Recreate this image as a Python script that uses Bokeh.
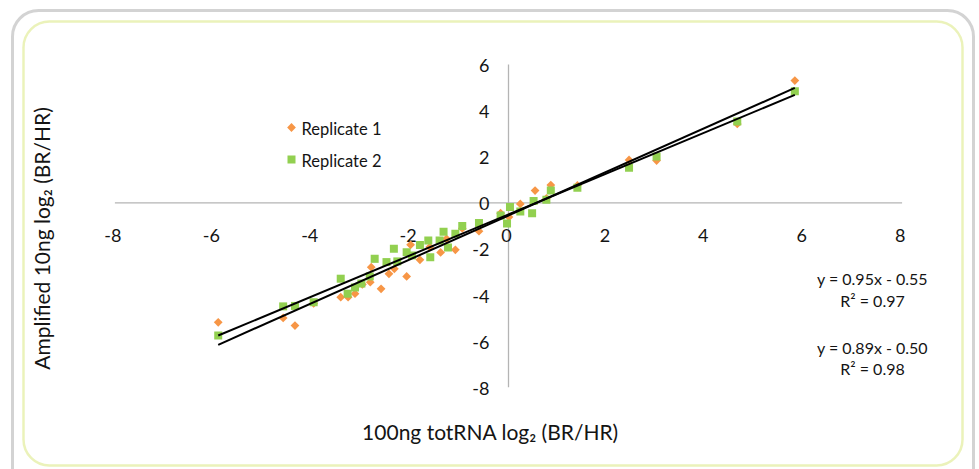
import numpy as np
from bokeh.plotting import figure
from bokeh.models import BoxAnnotation, Range1d
from bokeh.core.properties import value
from bokeh.embed import file_html
from bokeh.resources import INLINE

# ---------------- data ----------------
series_names = ["Replicate 1", "Replicate 2"]

rep1_x = [-5.90, -4.58, -4.34, -3.96, -3.41, -3.26, -3.12, -2.97, -2.81, -2.79,
          -2.59, -2.43, -2.32, -2.07, -1.99, -1.80, -1.60, -1.38, -1.26, -1.08,
          -0.94, -0.60, -0.16, 0.01, 0.24, 0.54, 0.77, 0.86, 1.40, 2.45,
          3.01, 4.65, 5.82]
rep1_y = [-5.18, -4.99, -5.32, -4.36, -4.09, -4.09, -3.94, -3.54, -3.44, -2.79,
          -3.73, -3.08, -2.86, -3.19, -1.82, -2.47, -1.92, -2.15, -1.56, -2.04,
          -1.11, -1.23, -0.45, -0.62, -0.05, 0.53, 0.19, 0.77, 0.75, 1.86,
          1.83, 3.42, 5.30]

rep2_x = [-5.90, -4.58, -4.34, -3.96, -3.41, -3.27, -3.12, -2.99, -2.82, -2.72,
          -2.48, -2.33, -2.26, -2.07, -1.96, -1.80, -1.63, -1.59, -1.40, -1.32,
          -1.23, -1.08, -0.94, -0.60, -0.16, -0.03, 0.03, 0.24, 0.48, 0.51,
          0.77, 0.86, 1.40, 2.45, 3.01, 4.65, 5.82]
rep2_y = [-5.75, -4.49, -4.47, -4.31, -3.29, -3.94, -3.67, -3.50, -3.19, -2.43,
          -2.57, -1.99, -2.54, -2.14, -2.28, -1.83, -1.63, -2.36, -1.63, -1.26,
          -1.94, -1.34, -1.01, -0.88, -0.55, -0.90, -0.18, -0.38, -0.45, 0.08,
          0.13, 0.53, 0.65, 1.52, 2.01, 3.52, 4.84]

fit_slopes = [0.95, 0.89]
fit_intercepts = [-0.55, -0.50]
fit_r2 = [0.97, 0.98]

x_ticks = [-8, -6, -4, -2, 0, 2, 4, 6, 8]
y_ticks = [-8, -6, -4, -2, 0, 2, 4, 6]

x_title = "100ng totRNA log\u2082 (BR/HR)"
y_title = "Amplified 10ng log\u2082 (BR/HR)"

# ---------------- layout ----------------
W, H = 979, 469
X0_PX, Y0_PX = 508.0, 202.3      # canvas position of the origin
PX_X, PX_Y = 49.2, 23.07         # pixels per data unit


def dx(px):
    return (px - X0_PX) / PX_X


def dy(py):
    return (Y0_PX - py) / PX_Y


FONT = value("Lato")
TXT = "#141414"
ORANGE = "#F79646"
GREEN = "#92D050"

p = figure(width=W, height=H, x_range=Range1d(dx(0), dx(W)), y_range=Range1d(dy(H), dy(0)),
           x_axis_type=None, y_axis_type=None, min_border=0,
           toolbar_location=None, output_backend="svg",
           outline_line_color=None, background_fill_color="white",
           border_fill_color="white")

# axes through origin
p.segment(x0=[min(x_ticks), 0], y0=[0, min(y_ticks)], x1=[max(x_ticks), 0], y1=[0, max(y_ticks)],
          line_color="#B4B4B4", line_width=1.3)

# tick labels
p.text(x=x_ticks, y=[0] * len(x_ticks), text=[str(t) for t in x_ticks],
       x_offset=-2, y_offset=33, text_align="center", text_baseline="middle",
       text_font=FONT, text_font_size="18px", text_color=TXT)
p.text(x=[0] * len(y_ticks), y=y_ticks, text=[str(t) for t in y_ticks],
       x_offset=-19, y_offset=1, text_align="right", text_baseline="middle",
       text_font=FONT, text_font_size="18px", text_color=TXT)

# series
p.scatter(rep1_x, rep1_y, marker="square", angle=np.pi / 4, size=6.2,
          fill_color=ORANGE, line_color=None)
p.scatter(rep2_x, rep2_y, marker="square", size=8,
          fill_color=GREEN, line_color=None)

# trend lines
all_x = rep1_x + rep2_x
xl = [min(all_x), max(all_x)]
for m, b in zip(fit_slopes, fit_intercepts):
    p.line(xl, [m * xl[0] + b, m * xl[1] + b], line_color="black", line_width=2)

# equations
eq_lines = []
for m, b, r2 in zip(fit_slopes, fit_intercepts, fit_r2):
    sign = "-" if b < 0 else "+"
    eq_lines.append((f"y = {m:.2f}x {sign} {abs(b):.2f}", f"R\u00b2 = {r2:.2f}"))
eq_y = [(278, 300), (347, 368)]
for (t1, t2), (ya, yb) in zip(eq_lines, eq_y):
    p.text(x=[dx(872), dx(872)], y=[dy(ya), dy(yb)], text=[t1, t2],
           text_align="center", text_baseline="middle",
           text_font=FONT, text_font_size="16px", text_color=TXT)

# legend
p.scatter([dx(291)], [dy(127)], marker="square", angle=np.pi / 4, size=6.2,
          fill_color=ORANGE, line_color=None)
p.scatter([dx(291)], [dy(159)], marker="square", size=8,
          fill_color=GREEN, line_color=None)
p.text(x=[dx(301), dx(301)], y=[dy(128), dy(160)], text=series_names,
       text_align="left", text_baseline="middle",
       text_font=FONT, text_font_size="16.5px", text_color=TXT)

# axis titles
p.text(x=[dx(490)], y=[dy(431)], text=[x_title], text_align="center", text_baseline="middle",
       text_font=FONT, text_font_size="21px", text_color=TXT)
p.text(x=[dx(41)], y=[dy(238)], text=[y_title], angle=np.pi / 2,
       text_align="center", text_baseline="middle",
       text_font=FONT, text_font_size="21px", text_color=TXT)

# rounded frames
p.add_layout(BoxAnnotation(left=dx(12), right=dx(973), top=dy(10), bottom=dy(500),
                           fill_color=None, fill_alpha=0, line_color="#6E6E6E",
                           line_width=3, border_radius=26))
p.add_layout(BoxAnnotation(left=dx(23), right=dx(962), top=dy(21), bottom=dy(465),
                           fill_color=None, fill_alpha=0, line_color="#BCD41C",
                           line_width=2.5, border_radius=26))

open("out.html", "w").write(file_html(p, INLINE))
